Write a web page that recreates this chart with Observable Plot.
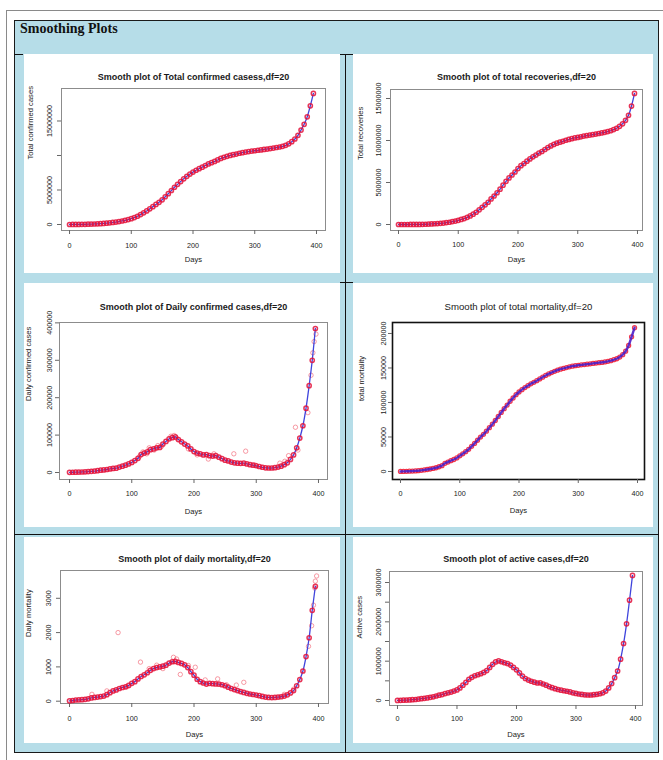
<!DOCTYPE html>
<html><head><meta charset="utf-8">
<script src="https://cdn.jsdelivr.net/npm/d3@7"></script>
<script src="https://cdn.jsdelivr.net/npm/@observablehq/plot@0.6"></script>
<style>
body{margin:0;background:#fff;}
#page{position:relative;width:663px;height:760px;overflow:hidden;font-family:"Liberation Sans",Arial,sans-serif;}
.abs{position:absolute;box-sizing:border-box;}
.abs svg{display:block;}
</style></head><body><div id="page"></div>
<script>
// ---------------- data ----------------
const days = [0,5,10,15,20,25,30,35,40,45,50,55,60,65,70,75,80,85,90,95,100,105,110,115,120,125,130,135,140,145,150,155,160,165,170,175,180,185,190,195,200,205,210,215,220,225,230,235,240,245,250,255,260,265,270,275,280,285,290,295,300,305,310,315,320,325,330,335,340,345,350,355,360,365,370,375,380,385,390,395];

const totalConfirmed = [2500,5300,9200,14400,21400,29400,39800,56300,74300,95700,124800,158300,198000,246600,297500,354000,425300,508900,604600,719700,849500,1003800,1193100,1435400,1695900,1964500,2267000,2589700,2905800,3220000,3580000,4023000,4466000,4930000,5400000,5818000,6226000,6624000,6977000,7306000,7597000,7864000,8088000,8314000,8546000,8773000,8958000,9140000,9352000,9572000,9735000,9884000,10004000,10124000,10208000,10323000,10413000,10495000,10572000,10640000,10690000,10757000,10814000,10880000,10937000,11000000,11080000,11156000,11230000,11334000,11474000,11686000,12000000,12390000,12930000,13690000,14520000,15600000,17200000,19000000];

const totalRecoveries = [150,320,800,1500,3900,6500,9100,14100,20900,31000,45300,64400,91800,114000,135000,169000,227000,271000,347000,410000,495000,600000,700000,850000,1020000,1230000,1460000,1750000,2040000,2340000,2650000,3040000,3390000,3780000,4210000,4680000,5140000,5540000,5890000,6250000,6660000,7000000,7260000,7540000,7810000,8050000,8270000,8500000,8690000,8930000,9160000,9350000,9530000,9680000,9800000,9900000,10030000,10130000,10220000,10300000,10370000,10440000,10520000,10580000,10640000,10700000,10760000,10830000,10900000,10970000,11060000,11160000,11300000,11460000,11690000,11990000,12400000,13000000,14100000,15600000];

const dailyConfirmed = [500,700,900,1100,1400,1800,2400,3200,3700,4800,6100,6800,8000,9700,10800,11500,14500,17000,19500,23000,27000,32000,38000,48000,52000,55000,61000,63000,66000,67000,76000,83000,90000,93000,95000,88000,82000,76000,71000,63000,56000,52000,50000,47000,48000,45000,44000,45000,41000,37000,33000,31000,28000,26000,25000,24500,25000,23000,21000,19500,18000,16000,14000,12500,12000,12000,13000,14500,17000,21000,26000,35000,47000,66000,92000,125000,172000,232000,300000,385000];
const dailyConfirmedScatterDays = [112,118,124,128,136,142,148,163,168,172,191,205,223,232,264,283,298,338,346,352,363,367,383,388,391,393,396];
const dailyConfirmedScatter = [42000,55000,50000,66000,60000,72000,70000,97000,99000,92000,63000,47000,36000,50000,50000,57000,20000,25000,30000,45000,121000,60000,160000,260000,320000,350000,370000];

const totalMortality = [50,150,290,450,640,830,1150,1690,2300,2900,3600,4400,5400,6900,8500,11900,13700,15700,17400,19700,22700,25600,28700,32100,36500,40700,45300,49900,53900,58400,63500,68500,73900,79700,85600,91100,96300,101800,106500,111300,115200,118600,121600,124300,127100,129200,131600,134200,136700,139200,141400,143400,145100,146800,148200,149400,150600,151700,152600,153300,153900,154500,155000,155500,156000,156600,157100,157700,158100,158800,159600,160600,162000,163400,165800,169300,174300,182600,195100,208300];

const dailyMortality = [10,20,35,40,45,55,70,95,110,120,135,150,190,250,300,330,370,400,420,460,520,570,650,720,770,830,900,950,980,1000,1020,1050,1110,1150,1160,1130,1100,1060,980,860,760,640,570,530,500,520,510,505,500,480,450,410,370,340,310,280,255,230,210,195,180,160,140,120,110,105,110,120,130,150,185,240,310,450,630,880,1300,1850,2650,3350];
const dailyMortalityScatterDays = [36,60,78,92,114,128,140,150,167,172,178,191,202,218,238,252,268,280,345,360,384,389,392,394,395,397];
const dailyMortalityScatter = [200,300,2000,420,1140,950,1050,950,1280,1230,780,1040,990,620,650,480,470,550,200,350,1600,2200,2800,3300,3500,3650];

const activeCases = [1500,4000,7400,10800,15000,20000,26000,36000,46000,55000,66000,80000,93000,115000,135000,150000,175000,195000,215000,240000,270000,320000,390000,460000,540000,590000,630000,655000,680000,715000,760000,840000,920000,980000,1010000,985000,960000,940000,900000,840000,780000,700000,620000,560000,520000,490000,465000,445000,450000,420000,390000,355000,325000,300000,280000,262000,248000,235000,218000,195000,180000,165000,155000,145000,140000,140000,148000,158000,172000,195000,240000,320000,430000,580000,750000,1050000,1450000,1950000,2550000,3180000];

const xTicks = [0,100,200,300,400];
const ticksTotalConfirmed = [0,5000000,10000000,15000000];
const labelsTotalConfirmed = ["0","5000000","","15000000"];
const ticksTotalRecoveries = [0,5000000,10000000,15000000];
const ticksDailyConfirmed = [0,100000,200000,300000,400000];
const ticksTotalMortality = [0,50000,100000,150000,200000];
const ticksDailyMortality = [0,1000,2000,3000];
const ticksActive = [0,500000,1000000,1500000,2000000,2500000,3000000];
const labelsActive = ["0","","1000000","","2000000","","3000000"];

// ---------------- layout ----------------
const page = document.getElementById("page");
function box(l,t,w,h,css){const d=document.createElement("div");d.className="abs";d.style.left=l+"px";d.style.top=t+"px";d.style.width=w+"px";d.style.height=h+"px";Object.assign(d.style,css||{});page.appendChild(d);return d;}
box(6,10,660,752,{border:"1px solid #8a8a8a"});
box(14,20,645,733,{background:"#b6dde8",border:"1px solid #1a1a1a"});
box(345,54,1.3,699,{background:"#111"});
box(14,534,645,1.3,{background:"#111"});
box(14,53.5,9,1.3,{background:"#111"});
box(340,53.5,13,1.3,{background:"#111"});
box(340,281.5,13,1.3,{background:"#111"});
const hdr = box(20,19,300,20,{font:"bold 14px 'Liberation Serif','Times New Roman',serif",color:"#111",lineHeight:"20px"});
hdr.textContent = "Smoothing Plots";

const FONT = "'Liberation Sans', Arial, Helvetica, sans-serif";
function panel(c){
  const pts = c.values.map((v,i)=>({day:days[i], v}));
  const sc = c.scatterDays ? c.scatterDays.map((d,i)=>({day:d, v:c.scatter[i]})) : [];
  const fmt = c.labels ? (d)=>c.labels[c.ticks.indexOf(d)] : d=>String(d);
  const fw = c.plain ? "normal" : "bold";
  const line = Plot.line(pts, {x:"day", y:"v", stroke:c.lineColor||"#2a30d8", strokeWidth:c.lineW||1.3, strokeOpacity:0.9, curve:"catmull-rom"});
  const dots = Plot.dot(pts, {x:"day", y:"v", r:c.r||2.1, stroke:c.dotColor||"#e3103a", strokeOpacity:c.dotOpacity||0.85, strokeWidth:c.dotW||1.5});
  const svg = Plot.plot({
    width:c.w, height:c.h,
    marginLeft:c.ml, marginRight:c.mr, marginTop:c.mt, marginBottom:c.mb,
    x:{domain:c.xd, axis:null}, y:{domain:c.yd, axis:null},
    style:{background:"#fff", fontFamily:FONT, overflow:"visible"},
    marks:[
      Plot.frame({stroke:c.frame||"#8c8c8c", strokeWidth:c.frameW||1}),
      Plot.axisX({ticks:xTicks, tickSize:4, tickPadding:c.xlab-6.5, fontSize:7.2, label:null, stroke:"#666", fill:"#222", tickFormat:d=>String(d)}),
      Plot.axisY({ticks:c.ticks, tickSize:4, tickRotate:-90, tickPadding:c.ylab-6.5, fontSize:7.2, label:null, stroke:"#666", fill:"#222", tickFormat:fmt}),
      Plot.text([c.title], {frameAnchor:"top", dy:-c.tdy, fontSize:c.plain?9.6:9, fontWeight:fw, fill:"#1a1a1a", letterSpacing: c.plain?"-0.3px":null}),
      Plot.text(["Days"], {frameAnchor:"bottom", dy:c.days, fontSize:7.6, fill:"#222"}),
      Plot.text([c.ylabel], {frameAnchor:"left", dx:c.ytitle, rotate:-90, fontSize:7.6, fill:"#222"}),
      Plot.dot(sc, {x:"day", y:"v", r:2.2, stroke:"#f03c50", strokeOpacity:0.5, strokeWidth:1}),
      ...(c.lineOnTop ? [dots, line] : [line, dots])
    ]
  });
  box(c.left, c.top, c.w, c.h).appendChild(svg);
}

panel({left:24, top:54, w:316, h:219, ml:37, mr:15, mt:34, mb:43, xd:[-13,414.6], yd:[-870000,19710000],
  values:totalConfirmed, ticks:ticksTotalConfirmed, labels:labelsTotalConfirmed,
  title:"Smooth plot of Total confirmed casess,df=20", ylabel:"Total confirmed cases",
  tdy:15, ytitle:-31, ylab:12, xlab:15, days:31});
panel({left:353, top:54, w:300, h:219, ml:37, mr:11, mt:35, mb:43, xd:[-13.4,408.4], yd:[-714000,16070000],
  values:totalRecoveries, ticks:ticksTotalRecoveries,
  title:"Smooth plot of total recoveries,df=20", ylabel:"Total recoveries",
  tdy:16, ytitle:-30, ylab:12, xlab:14, days:31});
panel({left:24, top:283, w:316, h:244, ml:35, mr:13, mt:39, mb:48, xd:[-16.1,414.5], yd:[-18700,401000],
  values:dailyConfirmed, ticks:ticksDailyConfirmed, scatterDays:dailyConfirmedScatterDays, scatter:dailyConfirmedScatter,
  title:"Smooth plot of Daily confirmed cases,df=20", ylabel:"Daily confirmed cases",
  tdy:19, ytitle:-31, ylab:10.5, xlab:14, days:34});
panel({left:353, top:283, w:300, h:244, ml:39, mr:9, mt:39, mb:48, xd:[-13.5,411.8], yd:[-11600,215900],
  values:totalMortality, ticks:ticksTotalMortality, plain:true, frame:"#111", frameW:1.6,
  lineColor:"#4a1fc8", lineW:2.4, lineOnTop:true, r:2, dotW:1.3, dotColor:"#f01830",
  title:"Smooth plot of total mortality,df=20", ylabel:"total mortality",
  tdy:19, ytitle:-31, ylab:9.5, xlab:14, days:33});
panel({left:24, top:537, w:316, h:206, ml:36, mr:12, mt:33, mb:40, xd:[-14.5,416.1], yd:[-67,3810],
  values:dailyMortality, ticks:ticksDailyMortality, scatterDays:dailyMortalityScatterDays, scatter:dailyMortalityScatter,
  title:"Smooth plot of daily mortality,df=20", ylabel:"Daily mortality",
  tdy:15, ytitle:-32, ylab:12, xlab:15, days:33});
panel({left:353, top:537, w:300, h:206, ml:36, mr:11, mt:34, mb:38, xd:[-13.4,411.8], yd:[-127000,3280000],
  values:activeCases, ticks:ticksActive, labels:labelsActive,
  title:"Smooth plot of active cases,df=20", ylabel:"Active cases",
  tdy:16, ytitle:-30, ylab:11, xlab:13, days:31});
</script></body></html>
